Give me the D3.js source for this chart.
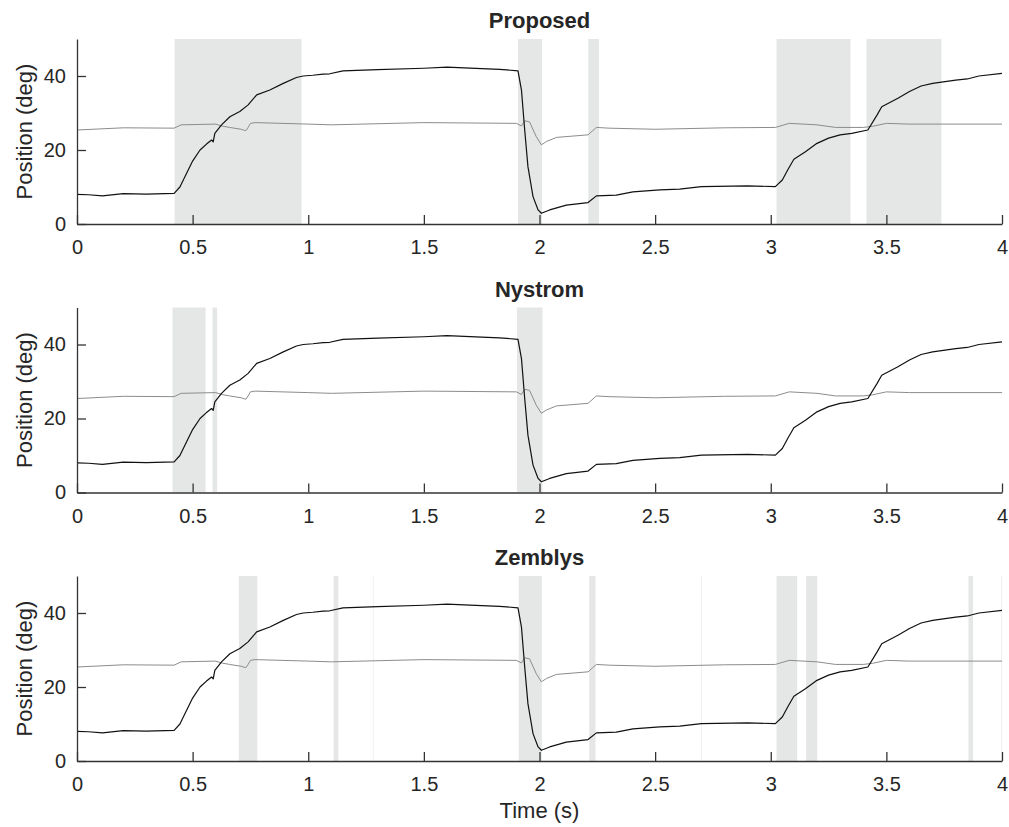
<!DOCTYPE html>
<html>
<head>
<meta charset="utf-8">
<script src="https://cdn.jsdelivr.net/npm/d3@7"></script>
<style>
  body { margin: 0; background: #fff; }
  svg text { font-family: "Liberation Sans", Arial, Helvetica, sans-serif; fill: #262626; }
</style>
</head>
<body>
<div id="chart"></div>
<script>
// eye position trace (black), seconds / degrees
var eyeTime = [0, 0.05, 0.11, 0.2, 0.3, 0.42, 0.445, 0.474, 0.5, 0.532, 0.56, 0.582, 0.589, 0.596, 0.625, 0.661, 0.704, 0.74, 0.777,
  0.834, 0.892, 0.949, 0.978, 1.02, 1.064, 1.093, 1.15, 1.3, 1.5, 1.6, 1.75, 1.828, 1.907, 1.922, 1.936, 1.95, 1.972,
  1.994, 2.008, 2.044, 2.116, 2.21, 2.246, 2.332, 2.404, 2.52, 2.606, 2.7, 2.9, 3.02, 3.05, 3.075, 3.1, 3.15, 3.2, 3.25,
  3.3, 3.35, 3.42, 3.46, 3.48, 3.55, 3.6, 3.65, 3.7, 3.8, 3.85, 3.9, 4.0];
var eyePos = [8.0, 7.9, 7.6, 8.2, 8.1, 8.3, 10.0, 13.7, 17.0, 20.0, 21.6, 22.7, 22.2, 24.5, 26.8, 29.0, 30.4, 32.2, 34.9,
  36.2, 38.0, 39.6, 40.0, 40.2, 40.5, 40.6, 41.4, 41.7, 42.1, 42.4, 42.0, 41.8, 41.4, 36.2, 25.4, 15.5, 7.4,
  3.8, 2.9, 3.8, 5.1, 5.8, 7.6, 7.8, 8.7, 9.2, 9.4, 10.1, 10.3, 10.1, 11.9, 14.8, 17.5, 19.5, 21.8, 23.2,
  24.1, 24.5, 25.4, 29.5, 31.7, 34.0, 35.8, 37.3, 38.0, 38.9, 39.2, 40.0, 40.7];

// target / second trace (gray)
var targetTime = [0, 0.2, 0.42, 0.45, 0.6, 0.625, 0.66, 0.71, 0.73, 0.74, 0.75, 0.77, 1.0, 1.1, 1.5, 1.9, 1.922, 1.936,
  1.957, 1.986, 2.008, 2.03, 2.073, 2.21, 2.246, 2.3, 2.5, 2.8, 3.02, 3.08, 3.2, 3.28, 3.4, 3.44, 3.5, 3.6, 4.0];
var targetPos = [25.4, 26.0, 25.9, 26.8, 27.0, 26.5, 26.1, 25.6, 25.2, 26.1, 27.2, 27.4, 27.0, 26.8, 27.4, 27.2, 26.5, 27.9,
  27.6, 23.6, 21.4, 22.3, 23.4, 24.1, 26.1, 25.9, 25.6, 26.0, 26.1, 27.2, 26.8, 26.1, 26.1, 26.4, 27.2, 27.0, 27.0];

// detected events per method [start, end] in seconds
var proposedEvents = [[0.422, 0.971], [1.907, 2.011], [2.211, 2.257], [3.025, 3.345], [3.414, 3.738]];
var nystromEvents = [[0.413, 0.556], [0.586, 0.606], [1.903, 2.013]];
var zemblysEvents = [[0.70, 0.78], [1.11, 1.13], [1.279, 1.283], [1.91, 2.01], [2.215, 2.242], [2.698, 2.702],
  [3.025, 3.114], [3.153, 3.201], [3.855, 3.875], [3.996, 4.0]];

var methodNames = ["Proposed", "Nystrom", "Zemblys"];
var xTicks = [0, 0.5, 1, 1.5, 2, 2.5, 3, 3.5, 4];
var yTicks = [0, 20, 40];

var w = 1009, h = 827;
var left = 77, right = 1002;
var panelTops = [39, 307.5, 576];
var panelH = 185;

var svg = d3.select("#chart").append("svg")
    .attr("width", w)
    .attr("height", h);

var x = d3.scaleLinear().domain([0, 4]).range([left, right]);

var eye = eyeTime.map(function(t, i) { return [t, eyePos[i]]; });
var target = targetTime.map(function(t, i) { return [t, targetPos[i]]; });
var eventSets = [proposedEvents, nystromEvents, zemblysEvents];

methodNames.forEach(function(name, k) {
  var top = panelTops[k];
  var y = d3.scaleLinear().domain([0, 50]).range([top + panelH, top]);
  var g = svg.append("g");

  g.selectAll("rect.ev")
    .data(eventSets[k])
    .enter()
    .append("rect")
    .attr("class", "ev")
    .attr("x", function(d) { return x(d[0]); })
    .attr("width", function(d) { return Math.max(1, x(d[1]) - x(d[0])); })
    .attr("y", y(50))
    .attr("height", y(0) - y(50))
    .attr("fill", function(d) { return (d[1] - d[0]) < 0.01 ? "#eef0f0" : "#e5e6e6"; });

  var line = d3.line()
    .x(function(d) { return x(d[0]); })
    .y(function(d) { return y(d[1]); });

  g.append("path")
    .datum(target)
    .attr("d", line)
    .attr("fill", "none")
    .attr("stroke", "#8c8c8c")
    .attr("stroke-width", 1);

  g.append("path")
    .datum(eye)
    .attr("d", line)
    .attr("fill", "none")
    .attr("stroke", "#111")
    .attr("stroke-width", 1.2)
    .attr("stroke-linejoin", "round");

  var xAxis = g.append("g")
    .attr("transform", "translate(0," + y(0) + ")")
    .call(d3.axisBottom(x).tickValues(xTicks).tickFormat(d3.format("")).tickSizeInner(-9).tickSizeOuter(0).tickPadding(16));

  var yAxis = g.append("g")
    .attr("transform", "translate(" + left + ",0)")
    .call(d3.axisLeft(y).tickValues(yTicks).tickSizeInner(-9).tickSizeOuter(0).tickPadding(11));

  [xAxis, yAxis].forEach(function(a) {
    a.select(".domain").attr("stroke", "#333").attr("stroke-width", 1.3);
    a.selectAll(".tick line").attr("stroke", "#333").attr("stroke-width", 1.3);
    a.selectAll(".tick text").attr("font-size", 20).attr("fill", "#262626")
      .style("font-family", "'Liberation Sans', Arial, sans-serif");
  });

  g.append("text")
    .attr("x", (left + right) / 2)
    .attr("y", top - 11)
    .attr("text-anchor", "middle")
    .attr("font-size", 22)
    .attr("font-weight", "bold")
    .text(name);

  g.append("text")
    .attr("transform", "translate(32," + (top + panelH / 2) + ") rotate(-90)")
    .attr("text-anchor", "middle")
    .attr("font-size", 22)
    .text("Position (deg)");
});

svg.append("text")
  .attr("x", (left + right) / 2)
  .attr("y", 818)
  .attr("text-anchor", "middle")
  .attr("font-size", 22)
  .text("Time (s)");
</script>
</body>
</html>
